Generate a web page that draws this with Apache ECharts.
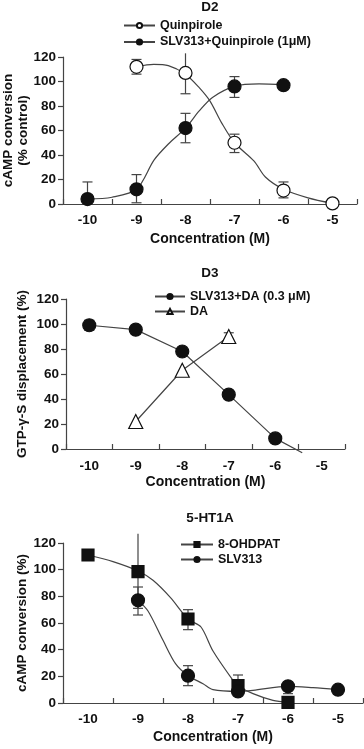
<!DOCTYPE html>
<html>
<head>
<meta charset="utf-8">
<script src="https://cdn.jsdelivr.net/npm/echarts@6/dist/echarts.min.js"></script>
<style>
  html, body { margin: 0; padding: 0; background: #fff; }
  #chart { width: 364px; height: 749px; }
</style>
</head>
<body>
<div id="chart"></div>
<script>
// concentration categories (log M)
let concLabels = ['-10', '-9', '-8', '-7', '-6', '-5'];
let conc = [-10, -9, -8, -7, -6, -5];
let yTicks = [0, 20, 40, 60, 80, 100, 120];

// D2 - measured points and error bars
let d2Quin = [null, 112, 107, 50, 11, 0.5];
let d2QuinLow = [null, 106, 90, 42, 5, null];
let d2QuinHigh = [null, 118, 123, 57, 18, null];
let d2Slv = [4, 12, 62, 96, 97, null];
let d2SlvLow = [null, 1, 50, 87, null, null];
let d2SlvHigh = [18, 24, 74, 104, null, null];
// D2 - fitted curves
let d2QuinFit = [[-9, 112], [-8.65, 114], [-8.35, 113], [-8, 106], [-7.72, 95], [-7.5, 84], [-7.26, 66], [-7, 50], [-6.6, 35], [-6.37, 22], [-6, 12], [-5.5, 5], [-5, 0.5]];
let d2SlvFit = [[-10, 4], [-9.5, 5.5], [-9, 12], [-8.64, 36], [-8.35, 49], [-8, 62], [-7.72, 76], [-7.45, 87], [-7, 96], [-6.5, 98], [-6, 97.5]];

// D3
let d3Slv = [99, 95.5, 78, 43.5, 8.5, null];
let d3SlvLow = [95, null, null, null, null, null];
let d3SlvHigh = [103, null, null, null, null, null];
let d3SlvEnd = [-5.42, -3];
let d3Da = [null, 22, 63, 90, null, null];
let d3DaLow = [null, null, null, 87, null, null];
let d3DaHigh = [null, null, null, 93, null, null];

// 5-HT1A
let htOh = [111, 98.6, 63, 13, 0.5, null];
let htOhLow = [null, 71, 55, 6, null, null];
let htOhHigh = [null, 127, 70, 21, null, null];
let htSlv = [null, 77, 20.5, 8.7, 12.5, 10];
let htSlvLow = [null, 66, 13, null, 7, null];
let htSlvHigh = [null, 87, 28, null, null, null];
let htOhFit = [[-10, 111], [-9.5, 106], [-9, 99], [-8.7, 92], [-8.35, 79], [-8, 63], [-7.74, 57], [-7.5, 39], [-7.1, 17], [-7, 13], [-6.7, 7], [-6.3, 2], [-6, 0.5]];
let htSlvFit = [[-9, 77], [-8.8, 69], [-8.5, 47], [-8.25, 29.5], [-8, 20.5], [-7.7, 14.5], [-7.5, 10], [-7, 8.7], [-6.7, 9.5], [-6, 12.5], [-5.5, 11.5], [-5, 10]];

let font = "'Liberation Sans', Arial, sans-serif";
let ink = '#111';
let lineCol = '#444';
let yMax = yTicks[yTicks.length - 1];

function pts(values) {
    let out = [];
    values.forEach((v, i) => { if (v !== null) out.push([conc[i], v]); });
    return out;
}

// [x, low, high, capLow, capHigh]; caps above the axis top are cut off like in the original
function errs(values, low, high) {
    let out = [];
    values.forEach((v, i) => {
        if (v === null || (low[i] === null && high[i] === null)) return;
        out.push([conc[i], low[i] === null ? v : low[i], high[i] === null ? v : high[i],
            low[i] !== null ? 1 : 0, (high[i] !== null && high[i] <= yMax) ? 1 : 0]);
    });
    return out;
}

function errorSeries(panel, data) {
    return {
        type: 'custom',
        xAxisIndex: panel * 2 + 1,
        yAxisIndex: panel,
        clip: false,
        z: 3,
        data: data,
        renderItem: function (params, api) {
            let x = api.value(0);
            let lo = api.coord([x, api.value(1)]);
            let hi = api.coord([x, api.value(2)]);
            let style = { stroke: lineCol, lineWidth: 1.2 };
            let kids = [{ type: 'line', shape: { x1: lo[0], y1: lo[1], x2: hi[0], y2: hi[1] }, style: style }];
            if (api.value(3)) kids.push({ type: 'line', shape: { x1: lo[0] - 5, y1: lo[1], x2: lo[0] + 5, y2: lo[1] }, style: style });
            if (api.value(4)) kids.push({ type: 'line', shape: { x1: hi[0] - 5, y1: hi[1], x2: hi[0] + 5, y2: hi[1] }, style: style });
            return { type: 'group', children: kids };
        }
    };
}

function curve(panel, name, data, symbol, fill, smooth) {
    return {
        name: name,
        type: 'line',
        xAxisIndex: panel * 2 + 1,
        yAxisIndex: panel,
        data: data,
        smooth: smooth,
        symbol: symbol,
        showSymbol: false,
        clip: false,
        silent: true,
        z: 2,
        lineStyle: { color: lineCol, width: 1.2 },
        itemStyle: { color: fill, borderColor: ink, borderWidth: 1 }
    };
}

function marks(panel, data, symbol, size, fill) {
    return {
        type: 'scatter',
        xAxisIndex: panel * 2 + 1,
        yAxisIndex: panel,
        data: data,
        symbol: symbol,
        symbolSize: size,
        clip: false,
        z: 4,
        itemStyle: { color: fill, borderColor: ink, borderWidth: 1.2, opacity: 1 }
    };
}

let grids = [
    { left: 63, top: 57, right: 7, height: 147, outerBoundsMode: 'none' },
    { left: 66, top: 299, right: 19, height: 150, outerBoundsMode: 'none' },
    { left: 63, top: 543, right: 1, height: 160, outerBoundsMode: 'none' }
];
let labelMargins = [9, 10, 9];
let nameGaps = [28, 26, 27];
let yNames = ['cAMP conversion\n(% control)', 'GTP-\u03b3-S displacement (%)', 'cAMP conversion (%)'];
let yNameGaps = [32, 36, 33];

let xAxes = [];
let yAxes = [];
grids.forEach((g, i) => {
    xAxes.push({
        type: 'category',
        gridIndex: i,
        data: concLabels,
        boundaryGap: true,
        name: 'Concentration (M)',
        nameLocation: 'middle',
        nameGap: nameGaps[i],
        nameMoveOverlap: false,
        nameTextStyle: { fontFamily: font, fontWeight: 'bold', fontSize: 14, color: ink },
        axisLine: { lineStyle: { color: lineCol, width: 1.2 } },
        axisTick: { show: true, inside: true, length: 5, interval: 0, lineStyle: { color: lineCol, width: 1.2 } },
        axisLabel: { fontFamily: font, fontWeight: 'bold', fontSize: 13.5, color: ink, margin: labelMargins[i], interval: 0 },
        splitLine: { show: false }
    });
    xAxes.push({
        type: 'value',
        gridIndex: i,
        min: -10.5,
        max: -4.5,
        show: false
    });
    yAxes.push({
        type: 'value',
        gridIndex: i,
        min: yTicks[0],
        max: yMax,
        interval: 20,
        name: yNames[i],
        nameLocation: 'middle',
        nameGap: yNameGaps[i],
        nameMoveOverlap: false,
        nameTextStyle: { fontFamily: font, fontWeight: 'bold', fontSize: 13.5, color: ink, lineHeight: 15 },
        axisLine: { show: true, lineStyle: { color: lineCol, width: 1.2 } },
        axisTick: { show: true, length: 5, lineStyle: { color: lineCol, width: 1.2 } },
        axisLabel: { fontFamily: font, fontWeight: 'bold', fontSize: 13.5, color: ink, margin: 7 },
        splitLine: { show: false }
    });
});

let legendText = { fontFamily: font, fontWeight: 'bold', fontSize: 12.5, color: ink };
let titleText = { fontFamily: font, fontWeight: 'bold', fontSize: 13.5, color: ink };

let chart = echarts.init(document.getElementById('chart'), null, { renderer: 'canvas' });

let option = {
    animation: false,
    backgroundColor: '#fff',
    title: [
        { text: 'D2', left: 210, top: 0, padding: 0, textAlign: 'center', textStyle: titleText },
        { text: 'D3', left: 210, top: 266, padding: 0, textAlign: 'center', textStyle: titleText },
        { text: '5-HT1A', left: 210, top: 511, padding: 0, textAlign: 'center', textStyle: titleText }
    ],
    legend: [
        { data: ['Quinpirole', 'SLV313+Quinpirole (1\u03bcM)'], orient: 'vertical', left: 123, top: 19, itemWidth: 31, itemHeight: 6.5, itemGap: 3.5, padding: 0, textStyle: legendText, selectedMode: false },
        { data: ['SLV313+DA (0.3 \u03bcM)', 'DA'], orient: 'vertical', left: 154, top: 290, itemWidth: 30, itemHeight: 6.5, itemGap: 2, padding: 0, textStyle: legendText, selectedMode: false },
        { data: ['8-OHDPAT', 'SLV313'], orient: 'vertical', left: 180, top: 538, itemWidth: 32, itemHeight: 6.5, itemGap: 2, padding: 0, textStyle: legendText, selectedMode: false }
    ],
    grid: grids,
    xAxis: xAxes,
    yAxis: yAxes,
    series: [
        // D2
        curve(0, 'Quinpirole', d2QuinFit, 'circle', '#fff', 0.3),
        curve(0, 'SLV313+Quinpirole (1\u03bcM)', d2SlvFit, 'circle', ink, 0.3),
        errorSeries(0, errs(d2Quin, d2QuinLow, d2QuinHigh)),
        errorSeries(0, errs(d2Slv, d2SlvLow, d2SlvHigh)),
        marks(0, pts(d2Quin), 'circle', 13, '#fff'),
        marks(0, pts(d2Slv), 'circle', 13, ink),
        // D3
        curve(1, 'SLV313+DA (0.3 \u03bcM)', pts(d3Slv).concat([d3SlvEnd]), 'circle', ink, false),
        curve(1, 'DA', pts(d3Da), 'triangle', '#fff', false),
        errorSeries(1, errs(d3Slv, d3SlvLow, d3SlvHigh)),
        errorSeries(1, errs(d3Da, d3DaLow, d3DaHigh)),
        marks(1, pts(d3Slv), 'circle', 13, ink),
        marks(1, pts(d3Da), 'triangle', 14, '#fff'),
        // 5-HT1A
        curve(2, '8-OHDPAT', htOhFit, 'rect', ink, 0.3),
        curve(2, 'SLV313', htSlvFit, 'circle', ink, 0.3),
        errorSeries(2, errs(htOh, htOhLow, htOhHigh)),
        errorSeries(2, errs(htSlv, htSlvLow, htSlvHigh)),
        marks(2, pts(htOh), 'rect', 12, ink),
        marks(2, pts(htSlv), 'circle', 13, ink)
    ]
};

chart.setOption(option);
</script>
</body>
</html>
